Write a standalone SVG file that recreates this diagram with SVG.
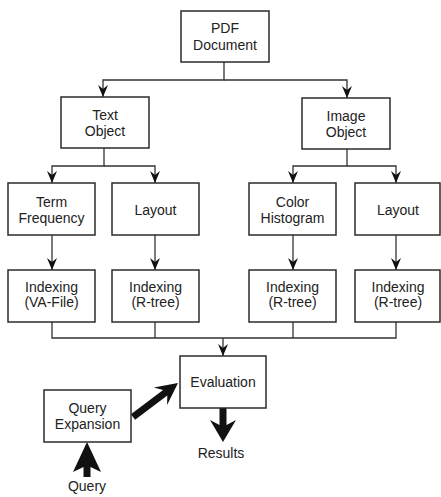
<svg xmlns="http://www.w3.org/2000/svg" width="441" height="497" viewBox="0 0 441 497">
<defs>
<style>
.box{fill:#fff;stroke:#2b2b2b;stroke-width:1.5}
.t{font-family:"Liberation Sans",Arial,sans-serif;font-size:14px;fill:#222;text-anchor:middle}
.ln{fill:none;stroke:#333;stroke-width:1.3}
.thick{fill:#111;stroke:none}
</style>
<marker id="ah" markerUnits="userSpaceOnUse" markerWidth="14" markerHeight="12" viewBox="-13 -6 14 12" refX="0" refY="0" orient="auto">
<path d="M0,0 L-12,-5 L-8,0 L-12,5 Z" fill="#111"/>
</marker>
</defs>
<rect width="441" height="497" fill="#fff"/>
<g id="connectors">
<path class="ln" d="M224,62 V80 H103 V97" marker-end="url(#ah)"/>
<path class="ln" d="M224,80 H347 V98" marker-end="url(#ah)"/>
<path class="ln" d="M104,148 V166 H52 V183" marker-end="url(#ah)"/>
<path class="ln" d="M104,166 H155 V183" marker-end="url(#ah)"/>
<path class="ln" d="M347,149 V166 H293 V183" marker-end="url(#ah)"/>
<path class="ln" d="M347,166 H396 V183" marker-end="url(#ah)"/>
<path class="ln" d="M52,235 V270" marker-end="url(#ah)"/>
<path class="ln" d="M155,235 V270" marker-end="url(#ah)"/>
<path class="ln" d="M293,235 V270" marker-end="url(#ah)"/>
<path class="ln" d="M396,235 V270" marker-end="url(#ah)"/>
<path class="ln" d="M52,322 V338 H396 V322 M155,322 V338 M293,322 V338"/>
<path class="ln" d="M223,338 V356" marker-end="url(#ah)"/>
<polygon class="thick" points="130.9,414.2 163.1,389.9 153.8,387.5 178,383 167.1,405.1 167.3,395.4 135.1,419.8"/>
<polygon class="thick" points="219.5,408 226.5,408 226.5,425 236,420 223,442 210,420 219.5,425"/>
<polygon class="thick" points="83.5,477 90.5,477 90.5,467 101,472 87,442 73,472 83.5,467"/>
</g>
<g id="pdf"><rect class="box" x="181" y="11" width="88" height="51"/><text class="t" x="225" y="33">PDF</text><text class="t" x="225" y="50">Document</text></g>
<g id="text-object"><rect class="box" x="61" y="97" width="88" height="51"/><text class="t" x="105" y="120">Text</text><text class="t" x="105" y="136">Object</text></g>
<g id="image-object"><rect class="box" x="302" y="98" width="88" height="51"/><text class="t" x="346" y="121">Image</text><text class="t" x="346" y="137">Object</text></g>
<g id="term-frequency"><rect class="box" x="8" y="183" width="87" height="52"/><text class="t" x="51.5" y="207">Term</text><text class="t" x="51.5" y="223">Frequency</text></g>
<g id="layout-text"><rect class="box" x="112" y="183" width="87" height="52"/><text class="t" x="155.5" y="215">Layout</text></g>
<g id="color-histogram"><rect class="box" x="249" y="183" width="87" height="52"/><text class="t" x="292.5" y="207">Color</text><text class="t" x="292.5" y="223">Histogram</text></g>
<g id="layout-image"><rect class="box" x="355" y="183" width="85" height="52"/><text class="t" x="398" y="215">Layout</text></g>
<g id="idx-va"><rect class="box" x="8" y="270" width="87" height="52"/><text class="t" x="51.5" y="292">Indexing</text><text class="t" x="51.5" y="307">(VA-File)</text></g>
<g id="idx-r1"><rect class="box" x="112" y="270" width="87" height="52"/><text class="t" x="155.5" y="292">Indexing</text><text class="t" x="155.5" y="307">(R-tree)</text></g>
<g id="idx-r2"><rect class="box" x="249" y="270" width="87" height="52"/><text class="t" x="292.5" y="292">Indexing</text><text class="t" x="292.5" y="307">(R-tree)</text></g>
<g id="idx-r3"><rect class="box" x="355" y="270" width="85" height="52"/><text class="t" x="398" y="292">Indexing</text><text class="t" x="398" y="307">(R-tree)</text></g>
<g id="evaluation"><rect class="box" x="180" y="356" width="86" height="52"/><text class="t" x="223" y="387">Evaluation</text></g>
<g id="query-expansion"><rect class="box" x="44" y="390" width="87" height="52"/><text class="t" x="87.5" y="413">Query</text><text class="t" x="87.5" y="429">Expansion</text></g>
<g id="results"><text class="t" x="221" y="458">Results</text></g>
<g id="query"><text class="t" x="87" y="491">Query</text></g>
</svg>
